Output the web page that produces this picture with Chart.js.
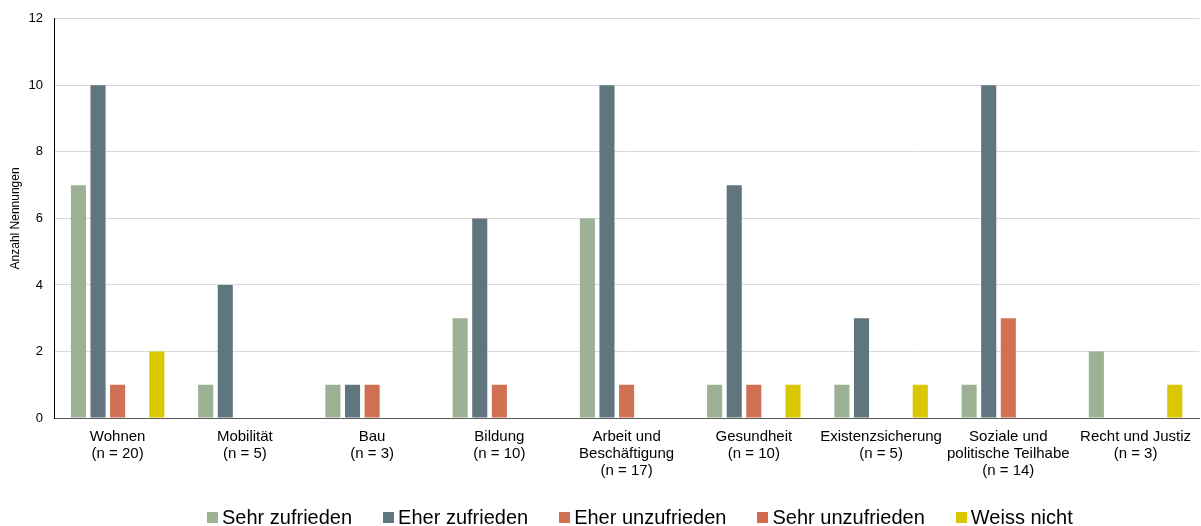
<!DOCTYPE html>
<html>
<head>
<meta charset="utf-8">
<script src="https://cdn.jsdelivr.net/npm/chart.js@4"></script>
<style>
  html, body { margin: 0; padding: 0; background: #ffffff; }
  #wrap { position: relative; width: 1201px; height: 526px; overflow: hidden; }
  #legend {
    position: absolute; left: 207px; top: 506px; height: 22px;
    display: flex; align-items: center; white-space: nowrap;
    font-family: 'Liberation Sans', Arial, sans-serif; font-size: 20px; color: #000;
  }
  #legend .item { display: flex; align-items: center; margin-right: 31px; }
  #legend .box { width: 11px; height: 11px; margin-right: 4px; margin-top: 1px; }
</style>
</head>
<body>
<div id="wrap">
  <canvas id="chart" width="1201" height="526"></canvas>
  <div id="legend"></div>
</div>
<script>
// categories (multi-line labels)
const categories = [
  ['Wohnen', '(n = 20)'],
  ['Mobilität', '(n = 5)'],
  ['Bau', '(n = 3)'],
  ['Bildung', '(n = 10)'],
  ['Arbeit und', 'Beschäftigung', '(n = 17)'],
  ['Gesundheit', '(n = 10)'],
  ['Existenzsicherung', '(n = 5)'],
  ['Soziale und', 'politische Teilhabe', '(n = 14)'],
  ['Recht und Justiz', '(n = 3)']
];

// series values
const sehrZufrieden   = [7, 1, 1, 3, 6, 1, 1, 1, 2];
const eherZufrieden   = [10, 4, 1, 6, 10, 7, 3, 10, 0];
const eherUnzufrieden = [1, 0, 1, 1, 1, 1, 0, 3, 0];
const sehrUnzufrieden = [0, 0, 0, 0, 0, 0, 0, 0, 0];
const weissNicht      = [2, 0, 0, 0, 0, 1, 1, 0, 1];

const seriesNames = ['Sehr zufrieden', 'Eher zufrieden', 'Eher unzufrieden', 'Sehr unzufrieden', 'Weiss nicht'];
const seriesColors = ['#9db195', '#61757f', '#d07153', '#d06b50', '#d9c800'];

// y axis ticks
const yTicks = [0, 2, 4, 6, 8, 10, 12];

const allSeries = [sehrZufrieden, eherZufrieden, eherUnzufrieden, sehrUnzufrieden, weissNicht];
const fontFamily = 'Liberation Sans, Arial, sans-serif';

const ctx = document.getElementById('chart').getContext('2d');
const chart = new Chart(ctx, {
  type: 'bar',
  data: {
    labels: categories,
    datasets: allSeries.map((vals, i) => ({
      label: seriesNames[i],
      data: vals,
      backgroundColor: seriesColors[i],
      borderWidth: 0,
      barPercentage: 0.77,
      categoryPercentage: 0.77
    }))
  },
  options: {
    responsive: false,
    animation: false,
    layout: { padding: { left: 0, right: 0, top: 11, bottom: 46 } },
    plugins: {
      tooltip: { enabled: false },
      legend: { display: false }
    },
    scales: {
      x: {
        afterFit: s => { s.height = 62; },
        grid: { display: false, drawTicks: false },
        border: { color: '#595959', width: 1 },
        ticks: {
          color: '#000000',
          maxRotation: 0,
          autoSkip: false,
          padding: 10,
          font: { family: fontFamily, size: 15, lineHeight: 1.1333 }
        }
      },
      y: {
        min: 0,
        max: 12,
        afterBuildTicks: axis => { axis.ticks = yTicks.map(v => ({ value: v })); },
        afterFit: s => { s.width = 54; },
        grid: { color: '#d9d9d9', drawTicks: false },
        border: { color: '#000000', width: 1 },
        ticks: {
          color: '#000000',
          padding: 11,
          font: { family: fontFamily, size: 13 }
        },
        title: {
          display: true,
          text: 'Anzahl Nennungen',
          color: '#000000',
          padding: { top: 8, bottom: 0 },
          font: { family: fontFamily, size: 12 }
        }
      }
    }
  }
});

// html legend built from the series
const legendEl = document.getElementById('legend');
seriesNames.forEach((name, i) => {
  const item = document.createElement('div');
  item.className = 'item';
  const box = document.createElement('span');
  box.className = 'box';
  box.style.background = seriesColors[i];
  const txt = document.createElement('span');
  txt.textContent = name;
  item.appendChild(box);
  item.appendChild(txt);
  legendEl.appendChild(item);
});
</script>
</body>
</html>
